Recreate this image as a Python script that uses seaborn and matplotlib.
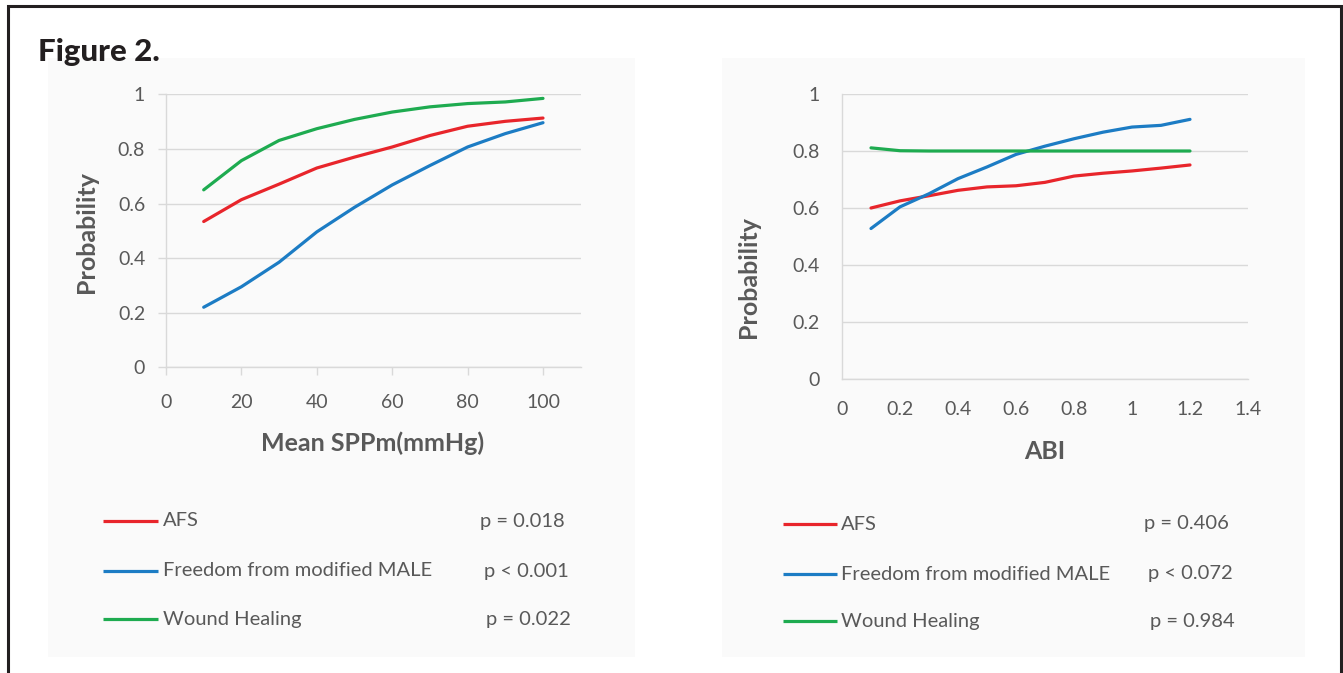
import numpy as np
import pandas as pd
import matplotlib
matplotlib.use("Agg")
import matplotlib.pyplot as plt
from matplotlib.patches import Rectangle
from matplotlib.lines import Line2D
import seaborn as sns

# ---------------- data ----------------
outcomes = ["AFS", "Freedom from modified MALE", "Wound Healing"]

spp_x = [10, 20, 30, 40, 50, 60, 70, 80, 90, 100]
spp_afs = [0.534, 0.614, 0.671, 0.730, 0.770, 0.807, 0.849, 0.883, 0.901, 0.913]
spp_male = [0.220, 0.295, 0.385, 0.496, 0.586, 0.668, 0.739, 0.807, 0.856, 0.896]
spp_wound = [0.650, 0.757, 0.831, 0.874, 0.908, 0.935, 0.954, 0.966, 0.972, 0.985]
spp_pvals = ["p = 0.018", "p < 0.001", "p = 0.022"]

abi_x = [0.1, 0.2, 0.3, 0.4, 0.5, 0.6, 0.7, 0.8, 0.9, 1.0, 1.1, 1.2]
abi_afs = [0.600, 0.625, 0.643, 0.662, 0.674, 0.678, 0.690, 0.712, 0.722, 0.730, 0.740, 0.751]
abi_male = [0.528, 0.604, 0.650, 0.703, 0.744, 0.788, 0.817, 0.843, 0.866, 0.884, 0.890, 0.911]
abi_wound = [0.811, 0.801, 0.800, 0.800, 0.800, 0.800, 0.800, 0.800, 0.800, 0.800, 0.800, 0.800]
abi_pvals = ["p = 0.406", "p < 0.072", "p = 0.984"]

spp_ticks = [0, 20, 40, 60, 80, 100]
abi_ticks = [0, 0.2, 0.4, 0.6, 0.8, 1.0, 1.2, 1.4]
abi_ticklabels = ["0", "0.2", "0.4", "0.6", "0.8", "1", "1.2", "1.4"]
prob_ticks = [0, 0.2, 0.4, 0.6, 0.8, 1.0]
prob_ticklabels = ["0", "0.2", "0.4", "0.6", "0.8", "1"]

colors = {"AFS": "#e8252b", "Freedom from modified MALE": "#1c7cc4",
          "Wound Healing": "#1eab50"}


def long_df(x, series):
    rows = []
    for name, vals in zip(outcomes, series):
        for xi, v in zip(x, vals):
            rows.append({"x": xi, "p": v, "outcome": name})
    return pd.DataFrame(rows)


df_spp = long_df(spp_x, [spp_afs, spp_male, spp_wound])
df_abi = long_df(abi_x, [abi_afs, abi_male, abi_wound])

# ---------------- style ----------------
sns.set_theme(style="white")
plt.rcParams["font.family"] = ["Lato", "DejaVu Sans"]

TXT = "#595959"
GRID = "#d9d9d9"
W, H = 1343, 673
TICK_FS = 14
LAB_FS = 18
LEG_FS = 14.5

fig = plt.figure(figsize=(W / 100, H / 100), dpi=100)
fig.patch.set_facecolor("white")


def px_rect(x0, y0, x1, y1, **kw):
    return Rectangle((x0 / W, 1 - y1 / H), (x1 - x0) / W, (y1 - y0) / H,
                     transform=fig.transFigure, **kw)


# panel backgrounds
fig.add_artist(px_rect(48, 58, 635, 657, facecolor="#fafafa", edgecolor="none", zorder=0))
fig.add_artist(px_rect(722, 58, 1305, 657, facecolor="#fafafa", edgecolor="none", zorder=0))
# outer frame
fig.add_artist(px_rect(8, 6, 1341, 690, facecolor="none", edgecolor="#231f20",
                       linewidth=2.2, zorder=1))

fig.text(38 / W, 1 - 52 / H, "Figure 2.", fontsize=22.5, fontweight="black",
         color="#231f20", ha="left", va="center")

# ---------------- left panel ----------------
axL = fig.add_axes([166 / W, 1 - 367.3 / H, 414.7 / W, 273 / H])
axL.patch.set_visible(False)
sns.lineplot(data=df_spp, x="x", y="p", hue="outcome", palette=colors,
             linewidth=2.3, legend=False, ax=axL)
axL.set_xlim(0, 110)
axL.set_ylim(0, 1)
axL.set_xticks(spp_ticks)
axL.set_yticks(prob_ticks)
axL.set_yticklabels(prob_ticklabels)
axL.grid(axis="y", color=GRID, linewidth=1)
axL.set_axisbelow(True)
for s in ["top", "right"]:
    axL.spines[s].set_visible(False)
for s in ["left", "bottom"]:
    axL.spines[s].set_color(GRID)
    axL.spines[s].set_linewidth(1)
axL.tick_params(axis="both", which="both", length=6, width=1, color=GRID,
                labelcolor=TXT, labelsize=TICK_FS, direction="out")
axL.tick_params(axis="y", pad=9, left=True)
axL.tick_params(axis="x", pad=13, bottom=True)
axL.set_xlabel("Mean SPPm(mmHg)", fontsize=LAB_FS, fontweight="bold", color=TXT)
axL.set_ylabel("Probability", fontsize=LAB_FS, fontweight="bold", color=TXT)
axL.xaxis.set_label_coords(0.498, -0.277)
axL.xaxis.label.set_va("center")
axL.yaxis.set_label_coords(-0.191, 0.497)
axL.yaxis.label.set_va("center")

# ---------------- right panel ----------------
axR = fig.add_axes([842 / W, 1 - 379 / H, 406 / W, 285 / H])
axR.patch.set_visible(False)
sns.lineplot(data=df_abi, x="x", y="p", hue="outcome", palette=colors,
             linewidth=2.3, legend=False, ax=axR)
axR.set_xlim(0, 1.4)
axR.set_ylim(0, 1)
axR.set_xticks(abi_ticks)
axR.set_xticklabels(abi_ticklabels)
axR.set_yticks(prob_ticks)
axR.set_yticklabels(prob_ticklabels)
axR.grid(axis="y", color=GRID, linewidth=1)
axR.set_axisbelow(True)
for s in ["top", "right"]:
    axR.spines[s].set_visible(False)
for s in ["left", "bottom"]:
    axR.spines[s].set_color(GRID)
    axR.spines[s].set_linewidth(1)
axR.tick_params(axis="both", which="both", length=0, labelcolor=TXT, labelsize=TICK_FS)
axR.tick_params(axis="y", pad=16)
axR.tick_params(axis="x", pad=16)
axR.set_xlabel("ABI", fontsize=LAB_FS, fontweight="bold", color=TXT)
axR.set_ylabel("Probability", fontsize=LAB_FS, fontweight="bold", color=TXT)
axR.xaxis.set_label_coords(0.5, -0.253)
axR.xaxis.label.set_va("center")
axR.yaxis.set_label_coords(-0.2315, 0.359)
axR.yaxis.label.set_va("center")

# ---------------- legends ----------------
def draw_legend(line_x0, line_x1, text_x, p_xs, ys, pvals):
    for name, y, pv, px in zip(outcomes, ys, pvals, p_xs):
        fig.add_artist(Line2D([line_x0 / W, line_x1 / W], [1 - y / H, 1 - y / H],
                              transform=fig.transFigure, color=colors[name],
                              linewidth=2.3, solid_capstyle="butt"))
        fig.text(text_x / W, 1 - y / H, name, fontsize=LEG_FS, color=TXT,
                 ha="left", va="center")
        fig.text(px / W, 1 - y / H, pv, fontsize=LEG_FS, color=TXT,
                 ha="left", va="center")


draw_legend(103, 158, 163, [480, 484, 486], [521, 571, 619], spp_pvals)
draw_legend(783, 837, 841, [1144, 1148, 1150], [524, 574, 621], abi_pvals)

fig.savefig("out.png", dpi=100)
